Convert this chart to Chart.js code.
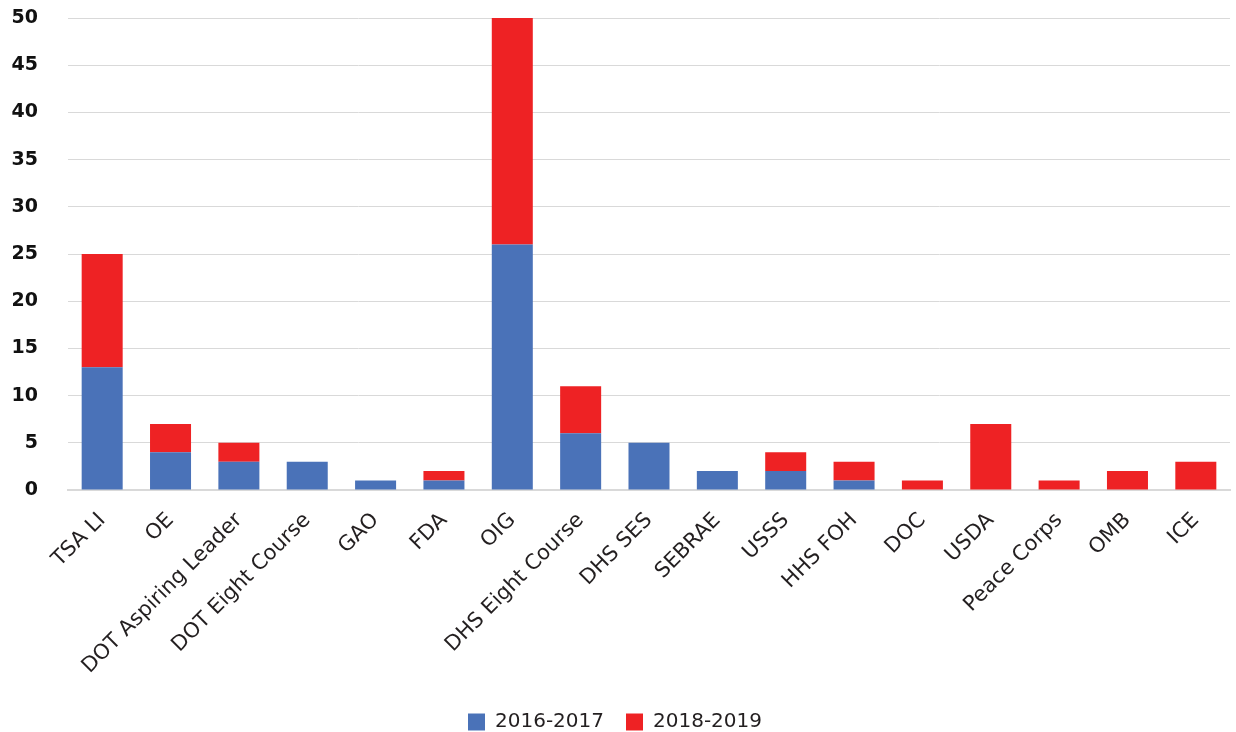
<!DOCTYPE html>
<html><head><meta charset="utf-8">
<script src="https://cdn.jsdelivr.net/npm/chart.js@4"></script>
<style>html,body{margin:0;padding:0;background:#fff}#wrap{width:1236px;height:732px}</style>
</head><body><div id="wrap"><canvas id="c" width="1236" height="732"></canvas></div>
<script>
const categories = ["TSA LI","OE","DOT Aspiring Leader","DOT Eight Course","GAO","FDA","OIG","DHS Eight Course","DHS SES","SEBRAE","USSS","HHS FOH","DOC","USDA","Peace Corps","OMB","ICE"];
const series2016 = [13,4,3,3,1,1,26,6,5,2,2,1,0,0,0,0,0];
const series2018 = [12,3,2,0,0,1,24,5,0,0,2,2,1,7,1,2,3];
const seriesNames = ["2016-2017","2018-2019"];
const yTicks = [0,5,10,15,20,25,30,35,40,45,50];

new Chart(document.getElementById('c'), {
  type: 'bar',
  data: {
    labels: categories,
    datasets: [
      {label: seriesNames[0], data: series2016, backgroundColor: '#4a72b8', categoryPercentage: 0.6, barPercentage: 1},
      {label: seriesNames[1], data: series2018, backgroundColor: '#ee2224', categoryPercentage: 0.6, barPercentage: 1}
    ]
  },
  options: {
    responsive: false,
    animation: false,
    layout: {padding: {left: 0, right: 6, top: 0, bottom: -10}},
    plugins: {
      legend: {
        position: 'bottom',
        labels: {font: {family: 'DejaVu Sans', size: 20}, color: '#231f20', boxWidth: 17, boxHeight: 17, padding: 22, useBorderRadius: false}
      },
      tooltip: {enabled: false}
    },
    scales: {
      x: {
        stacked: true,
        grid: {display: false, drawTicks: false},
        border: {display: true, color: '#d9d9d9', width: 2},
        ticks: {font: {family: 'DejaVu Sans', size: 21}, color: '#231f20', minRotation: 45, maxRotation: 45, padding: 18, autoSkip: false},
        afterFit: (s) => { s.height = 200; }
      },
      y: {
        stacked: true,
        min: 0, max: 50,
        afterBuildTicks: (s) => { s.ticks = yTicks.map(v => ({value: v})); },
        afterFit: (s) => { s.width = 68; s.paddingTop = 18; s.paddingBottom = 0; },
        grid: {color: '#d9d9d9', lineWidth: 1, drawTicks: false},
        border: {display: false},
        ticks: {font: {family: 'DejaVu Sans', size: 19, weight: 'bold'}, color: '#111', padding: 30}
      }
    }
  }
});
</script>
</body></html>
